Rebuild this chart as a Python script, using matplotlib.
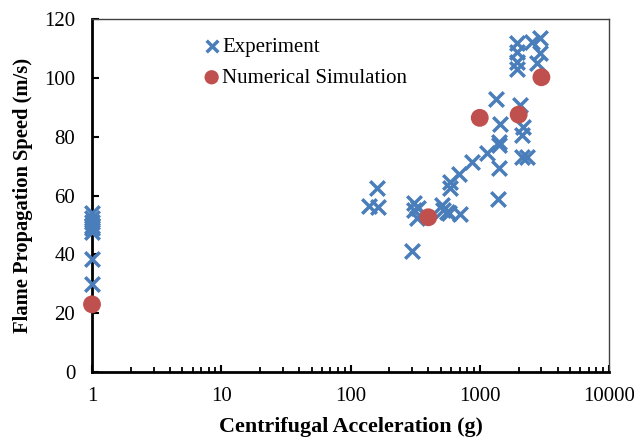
import matplotlib
matplotlib.use("Agg")
import matplotlib.pyplot as plt
from matplotlib.ticker import LogLocator, FixedLocator, NullFormatter

plt.rcParams['font.family'] = ['Liberation Serif', 'DejaVu Serif']

# Experimental measurements: centrifugal acceleration (g) vs flame speed (m/s)
exp_accel = [1, 1, 1, 1, 1, 1, 1, 1,
             139, 161, 164, 297, 310, 310, 325, 335,
             508, 522, 555, 582, 589, 589, 692, 703, 867,
             1132, 1336, 1393, 1418, 1435, 1420, 1400,
             1951, 1951, 1951, 1951, 2048, 2115, 2147, 2115, 2309,
             2523, 2925, 2925, 2788]
exp_speed = [54.2, 52.5, 51.0, 49.8, 48.8, 47.5, 38.5, 29.8,
             56.4, 62.4, 56.2, 41.2, 57.3, 55.1, 52.2, 55.6,
             56.8, 55.0, 54.5, 53.9, 64.7, 62.4, 67.3, 53.6, 71.5,
             74.5, 92.8, 58.7, 69.4, 84.2, 78.2, 77.2,
             111.7, 108.9, 105.5, 102.9, 90.8, 80.6, 83.4, 73.0, 73.2,
             112.3, 113.4, 108.3, 104.9]

# Numerical simulation results
sim_accel = [1, 400, 1000, 2000, 3000]
sim_speed = [23.0, 52.6, 86.4, 87.5, 100.2]

y_ticks = [0, 20, 40, 60, 80, 100, 120]
x_ticks = [1, 10, 100, 1000, 10000]
x_ticklabels = ["1", "10", "100", "1000", "10000"]

fig = plt.figure(figsize=(6.34, 4.37), dpi=100)
ax = fig.add_axes([92 / 634, 1 - 372 / 437, 517 / 634, 353 / 437])

ax.scatter(exp_accel, exp_speed, marker='x', s=110, linewidths=2.5,
           color='#4A7EBB', label='Experiment', zorder=3, clip_on=False)
ax.scatter(sim_accel, sim_speed, marker='o', s=165, color='#C0504D',
           edgecolors='none', label='Numerical Simulation', zorder=4,
           clip_on=False)

ax.set_xscale('log')
ax.set_xlim(1, 10000)
ax.set_ylim(0, 120)
ax.set_xticks(x_ticks)
ax.set_xticklabels(x_ticklabels)
ax.xaxis.set_minor_locator(LogLocator(base=10, subs=range(2, 10)))
ax.xaxis.set_minor_formatter(NullFormatter())
ax.yaxis.set_major_locator(FixedLocator(y_ticks))

ax.tick_params(axis='both', which='major', direction='in', length=5,
               width=1.5, labelsize=15, top=False, right=False)
ax.tick_params(axis='x', which='major', pad=11)
ax.tick_params(axis='y', which='major', pad=12)
ax.tick_params(axis='x', which='minor', direction='in', length=3.5,
               width=1.3, top=False)

for side in ['left', 'bottom']:
    ax.spines[side].set_linewidth(2.0)
    ax.spines[side].set_color('black')
for side in ['top', 'right']:
    ax.spines[side].set_linewidth(1.0)
    ax.spines[side].set_color('#404040')

ax.set_xlabel('Centrifugal Acceleration (g)', fontsize=15.8,
              fontweight='bold', labelpad=8)
ax.set_ylabel('Flame Propagation Speed (m/s)', fontsize=14.8,
              fontweight='bold', labelpad=8)

ax.legend(loc='upper left', bbox_to_anchor=(0.175, 0.99), frameon=False,
          fontsize=15, handletextpad=-0.2, labelspacing=0.55,
          borderaxespad=0.3, handlelength=1.4, markerscale=0.8)

fig.savefig('out.png', dpi=100)
